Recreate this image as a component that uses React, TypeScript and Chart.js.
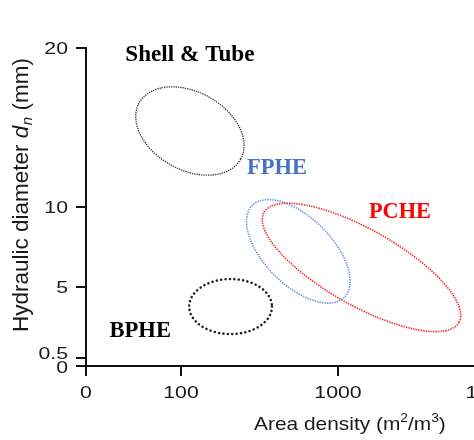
import React, { useEffect, useRef } from 'react';
import { Chart, registerables } from 'chart.js';

Chart.register(...registerables);

// ---- data ----
const categories = ['Shell & Tube', 'FPHE', 'PCHE', 'BPHE'];
// ellipse centres (area density m2/m3, hydraulic diameter mm)
const centerDensity = [114, 559, 1412, 207];
const centerDiameter = [14.78, 7.21, 6.2, 3.74];
// end of the semi-major axis
const majorEndDensity = [240, 1097, 5898, 380];
const majorEndDiameter = [13.01, 4.32, 2.74, 3.74];
// end of the semi-minor axis
const minorEndDensity = [150.6, 792, 1856, 207];
const minorEndDiameter = [16.92, 8.71, 8.28, 5.47];
// label anchor (centre of the text)
const labelDensity = [114, 409, 2480, 55];
const labelDiameter = [19.56, 12.42, 9.65, 2.2];

const xTickValues = [0, 100, 1000, 10000];
const xTickLabels = ['0', '100', '1000', '10000'];
const yTickValues = [0, 0.5, 5, 10, 20];
const yTickLabels = ['0', '0.5', '5', '10', '20'];
const xMin = 24.83;
const xMax = 14440;
const yMin = 0;
const yMax = 20;

// ---- styles ----
const labelColors = ['#000000', '#4472C4', '#FF0000', '#000000'];
const labelSizes = [23.2, 22.5, 22.3, 22.6];
const yLabelNudge = [0.5, -5, 0, 0, 0];
const ellipseStyles = [
  { color: '#333333', width: 1.3, dash: [1.3, 1.0], cap: 'butt' },
  { color: '#6A93DB', width: 1.6, dash: [1.4, 1.1], cap: 'butt' },
  { color: '#FF2020', width: 1.6, dash: [1.4, 1.1], cap: 'butt' },
  { color: '#222222', width: 2.6, dash: [0.01, 4.4], cap: 'round' },
];
const AXIS_TEXT = '#1a1a1a';
const TICK_SIZE = 17;
const TICK_STRETCH = 1.25;

const overlayPlugin = {
  id: 'overlay',
  afterDatasetsDraw(chart: any) {
    const { ctx } = chart;
    const x = chart.scales.x;
    const y = chart.scales.y;
    ctx.save();
    categories.forEach((_name, i) => {
      const cx = x.getPixelForValue(centerDensity[i]);
      const cy = y.getPixelForValue(centerDiameter[i]);
      const ux = x.getPixelForValue(majorEndDensity[i]) - cx;
      const uy = y.getPixelForValue(majorEndDiameter[i]) - cy;
      const vx = x.getPixelForValue(minorEndDensity[i]) - cx;
      const vy = y.getPixelForValue(minorEndDiameter[i]) - cy;
      const st = ellipseStyles[i];
      ctx.beginPath();
      ctx.ellipse(cx, cy, Math.hypot(ux, uy), Math.hypot(vx, vy), Math.atan2(uy, ux), 0, Math.PI * 2);
      ctx.setLineDash(st.dash);
      ctx.lineWidth = st.width;
      ctx.lineCap = st.cap;
      ctx.strokeStyle = st.color;
      ctx.stroke();
    });
    ctx.setLineDash([]);
    ctx.textAlign = 'center';
    ctx.textBaseline = 'middle';
    categories.forEach((name, i) => {
      ctx.font = `bold ${labelSizes[i]}px "Liberation Serif"`;
      ctx.fillStyle = labelColors[i];
      ctx.fillText(name, x.getPixelForValue(labelDensity[i]), y.getPixelForValue(labelDiameter[i]));
    });
    ctx.restore();
  },
  afterDraw(chart: any) {
    const { ctx } = chart;
    const xs = chart.scales.x;
    const ys = chart.scales.y;
    ctx.save();
    ctx.fillStyle = AXIS_TEXT;
    ctx.textBaseline = 'alphabetic';
    const digitMid = 0.358 * TICK_SIZE;
    ctx.font = `${TICK_SIZE}px "Liberation Sans"`;
    // x tick labels (positions from the x scale)
    xs.ticks.forEach((t: any, i: number) => {
      const px = xs.getPixelForValue(t.value);
      ctx.save();
      ctx.translate(px, 391.5 + digitMid);
      ctx.scale(TICK_STRETCH, 1);
      ctx.textAlign = 'center';
      ctx.fillText(xTickLabels[i], 0, 0);
      ctx.restore();
    });
    // y tick labels (positions from the y scale)
    ys.ticks.forEach((t: any, i: number) => {
      const py = ys.getPixelForValue(t.value) + yLabelNudge[i];
      ctx.save();
      ctx.translate(68, py + digitMid);
      ctx.scale(TICK_STRETCH, 1);
      ctx.textAlign = 'right';
      ctx.fillText(yTickLabels[i], 0, 0);
      ctx.restore();
    });

    // x title with superscripts
    ctx.save();
    ctx.translate(254, 429.5);
    ctx.scale(1.1, 1);
    ctx.textAlign = 'left';
    const base = '19px "Liberation Sans"';
    const sup = '12.5px "Liberation Sans"';
    let px = 0;
    const seg = (t: string, f: string, dy: number) => {
      ctx.font = f;
      ctx.fillText(t, px, dy);
      px += ctx.measureText(t).width;
    };
    seg('Area density (m', base, 0);
    seg('2', sup, -7.5);
    seg('/m', base, 0);
    seg('3', sup, -7.5);
    seg(')', base, 0);
    ctx.restore();

    // y title
    ctx.textAlign = 'left';
    ctx.translate(27.5, 332);
    ctx.rotate(-Math.PI / 2);
    let pos = 0;
    const normal = '22.5px "Liberation Sans"';
    const ital = 'italic 22.5px "Liberation Sans"';
    const sub = 'italic 15px "Liberation Sans"';
    ctx.font = normal;
    ctx.fillText('Hydraulic diameter ', pos, 0);
    pos += ctx.measureText('Hydraulic diameter ').width;
    ctx.font = ital;
    ctx.fillText('d', pos, 0);
    pos += ctx.measureText('d').width;
    ctx.font = sub;
    ctx.fillText('n', pos + 0.5, 4);
    pos += ctx.measureText('n').width + 0.5;
    ctx.font = normal;
    ctx.fillText(' (mm)', pos, 0);
    ctx.restore();
  },
};

export default function App() {
  const ref = useRef<HTMLCanvasElement | null>(null);
  useEffect(() => {
    if (!ref.current) return;
    const gridOpts = { drawOnChartArea: false, drawTicks: true, tickLength: 10, color: '#111', lineWidth: 2 };
    const chart = new Chart(ref.current, {
      type: 'scatter',
      data: {
        datasets: [
          {
            label: 'centres',
            data: centerDensity.map((d, i) => ({ x: d, y: centerDiameter[i] })),
            pointRadius: 0,
            showLine: false,
          },
        ],
      },
      options: {
        animation: false,
        responsive: false,
        layout: { padding: { top: 48, right: 20, left: 0, bottom: 0 } },
        plugins: { legend: { display: false }, tooltip: { enabled: false } },
        scales: {
          x: {
            type: 'logarithmic',
            min: xMin,
            max: xMax,
            afterBuildTicks: (s: any) => {
              s.ticks = xTickValues.map((v) => ({ value: v === 0 ? xMin : v }));
            },
            afterFit: (s: any) => {
              s.height = 74;
            },
            ticks: { display: false, autoSkip: false, maxRotation: 0 },
            grid: gridOpts,
            border: { display: true, color: '#111', width: 2 },
          },
          y: {
            type: 'linear',
            min: yMin,
            max: yMax,
            afterBuildTicks: (s: any) => {
              s.ticks = yTickValues.map((v) => ({ value: v }));
            },
            afterFit: (s: any) => {
              s.width = 86;
            },
            ticks: { display: false, autoSkip: false },
            grid: gridOpts,
            border: { display: true, color: '#111', width: 2 },
          },
        },
      },
      plugins: [overlayPlugin],
    } as any);
    return () => chart.destroy();
  }, []);
  return (
    <div style={{ position: 'fixed', left: 0, top: 0, width: 474, height: 440, overflow: 'hidden', background: '#fff' }}>
      <canvas ref={ref} width={540} height={440} style={{ display: 'block', width: 540, height: 440 }} />
    </div>
  );
}
